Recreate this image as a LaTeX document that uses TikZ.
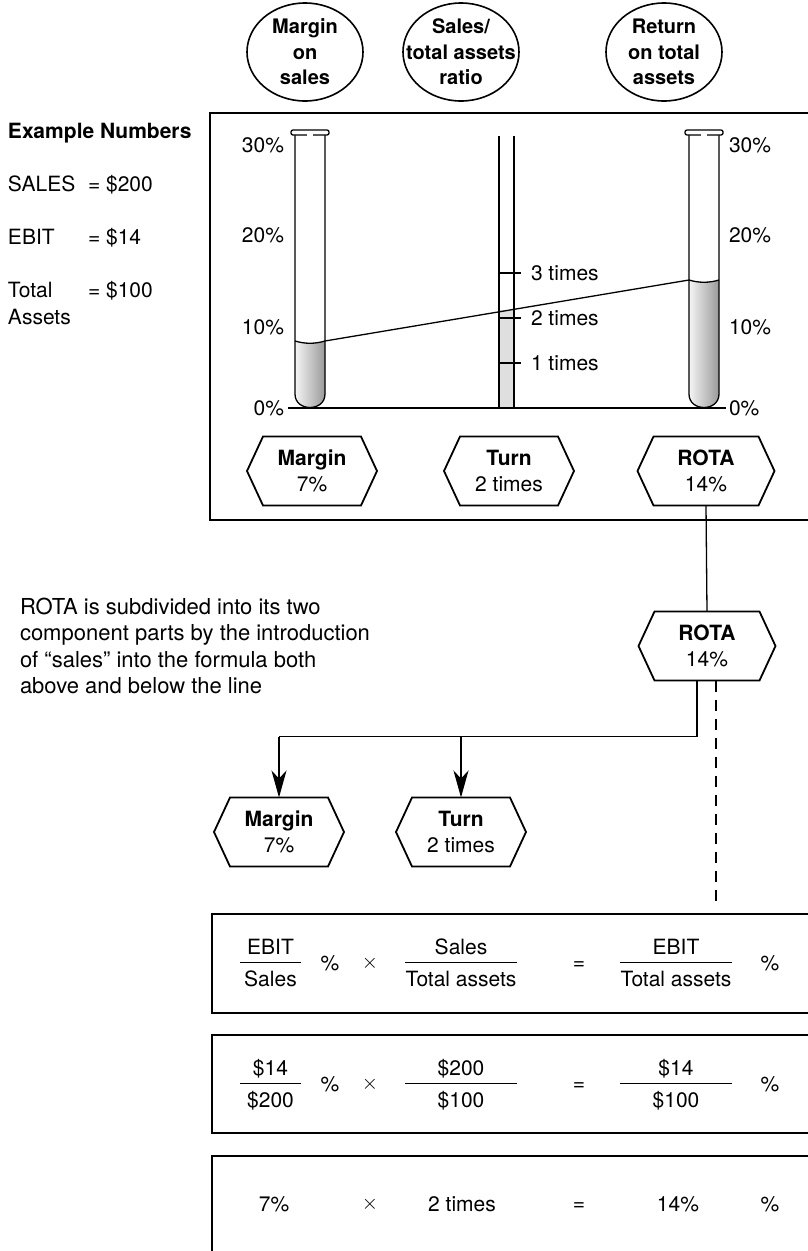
\documentclass[tikz,border=0pt]{standalone}
\usepackage{fontspec}
\setmainfont{TeX Gyre Heros}
\usetikzlibrary{arrows.meta,calc,shapes.geometric}

\newcommand\figfont{\fontsize{21}{25}\selectfont}

% heading oval: name, centre, text
\newcommand\ovalnode[3]{%
  \node[ovaltext] (#1) at (#2) {#3};
  \draw[ovalline] (#1.center) ellipse [x radius=58, y radius=49];}

% hexagonal value box: name, centre, width, content
\newcommand\hexnode[4]{%
  \node[hexbox, minimum width=#3] (#1) at (#2) {#4};
  \draw[hexline] (#1.west) -- ([xshift=16pt]#1.north west)
    -- ([xshift=-16pt]#1.north east) -- (#1.east)
    -- ([xshift=-16pt]#1.south east) -- ([xshift=16pt]#1.south west) -- cycle;}

% stacked fraction: name, x, bar y, half bar length, numerator, denominator
\newcommand\fracnode[6]{%
  \node[txt, anchor=base] (#1n) at (#2,#3-7.5) {#5};
  \node[txt, anchor=base] (#1d) at (#2,#3+24.5) {#6};
  \draw[fracbar] (#2-#4,#3) -- (#2+#4,#3);}

% test tube: centre x, liquid level y
\newcommand\testtube[2]{%
  \shade[left color=gray!8, right color=gray!80]
    (#1-15,#2) .. controls (#1-5,#2+3) and (#1+5,#2+3) .. (#1+15,#2)
    -- (#1+15,394) .. controls (#1+15,412) and (#1-15,412) .. (#1-15,394) -- cycle;
  \draw[tubeline] (#1-15,#2) .. controls (#1-5,#2+3) and (#1+5,#2+3) .. (#1+15,#2);
  \draw[tubeline] (#1-15,135) -- (#1-15,394) .. controls (#1-15,412) and (#1+15,412)
    .. (#1+15,394) -- (#1+15,135);
  \draw[tubeline, fill=white, rounded corners=2pt] (#1-19,130) rectangle (#1+19,135);
  \draw[white, line width=1.6pt] (#1-3,135) -- (#1+3,135);}

\begin{document}
\begin{tikzpicture}[x=1pt, y=-1pt,
  every node/.style={inner sep=0pt, outer sep=0pt},
  txt/.style={font=\figfont},
  boldtxt/.style={font=\figfont\bfseries},
  ovaltext/.style={align=center, font=\fontsize{20}{25.5}\selectfont\bfseries},
  ovalline/.style={line width=1.6pt},
  hexbox/.style={minimum height=69pt, align=center,
    font=\fontsize{21}{26}\selectfont},
  hexline/.style={line width=1.8pt, line join=miter},
  framebox/.style={line width=2.4pt},
  tubeline/.style={line width=1.3pt},
  conn/.style={line width=1.3pt},
  arrowconn/.style={line width=1.3pt,
    -{Stealth[length=27pt, width=15pt, inset=8pt]}},
  fracbar/.style={line width=1pt},
]
\useasboundingbox (0,0) rectangle (808,1251);

% ---- heading ovals
\ovalnode{ovm}{305,52}{Margin\\on\\sales}
\ovalnode{ovt}{461,52}{Sales/\\total assets\\ratio}
\ovalnode{ovr}{664,52}{Return\\on total\\assets}

% ---- example numbers
\node[boldtxt, anchor=base west] (exh) at (8,138.5) {Example Numbers};
\node[txt, anchor=base west] (exs) at (8,191) {SALES};
\node[txt, anchor=base west] (exsv) at (88,191) {= \$200};
\node[txt, anchor=base west] (exe) at (8,244.5) {EBIT};
\node[txt, anchor=base west] (exev) at (88,244.5) {= \$14};
\node[txt, anchor=base west] (exa) at (8,297.5) {Total};
\node[txt, anchor=base west] (exav) at (88,297.5) {= \$100};
\node[txt, anchor=base west] (exa2) at (8,324.5) {Assets};

% ---- upper frame
\draw[framebox] (830,113) -- (210,113) -- (210,520) -- (830,520);

% scale labels
\foreach \p/\y in {30/145,20/235,10/327,0/408}{
  \node[txt, anchor=base east] (sl\p) at (284,\y+7.5) {\p\%};
  \node[txt, anchor=base west] (sr\p) at (729,\y+7.5) {\p\%};
}

% tubes and rod
\testtube{310}{341}
\testtube{704}{280}
\fill[gray!25] (499,310) rectangle (514,408);
\draw[tubeline] (499,136) -- (499,408);
\draw[tubeline] (514,136) -- (514,408);
\foreach \n/\y in {3/273,2/318,1/363}{
  \draw[tubeline] (499,\y) -- (521,\y);
  \node[txt, anchor=base west] (tk\n) at (531,\y+7.5) {\n\ times};
}

% base line and level line
\draw[tubeline] (sl0.east |- 0,408) ++(4,0) -- (726,408);
\coordinate (lvlm) at (325,341);
\coordinate (lvlr) at (689,280);
\draw[tubeline] (lvlm) -- (lvlr);

% values in the frame
\hexnode{hm}{312,471}{130pt}{\textbf{Margin}\\7\%}
\hexnode{ht}{509,471}{130pt}{\textbf{Turn}\\2 times}
\hexnode{hr}{706,471}{137pt}{\textbf{ROTA}\\14\%}

% ---- explanation
\node[font=\fontsize{22}{26.5}\selectfont, align=left, anchor=north west] (expl)
  at (20,598) {ROTA is subdivided into its two\\component parts by the introduction\\of “sales” into the formula both\\above and below the line};

% ---- decomposition
\hexnode{hr2}{707,646}{137pt}{\textbf{ROTA}\\14\%}
\hexnode{hm2}{279,832}{130pt}{\textbf{Margin}\\7\%}
\hexnode{ht2}{461,832}{130pt}{\textbf{Turn}\\2 times}

\draw[conn] (hr.south) -- (hr2.north);
\draw[conn] ([xshift=-10pt]hr2.south) -- ++(0,56) coordinate (fork)
  -- (fork -| hm2.north);
\draw[arrowconn] (fork -| hm2.north) -- (hm2.north);
\draw[arrowconn] (fork -| ht2.north) -- (ht2.north);
\coordinate (dashend) at (716,903);
\draw[conn, dash pattern=on 11pt off 8pt] ([xshift=9pt]hr2.south) -- (dashend);

% ---- formula boxes
\draw[framebox] (830,914) -- (212,914) -- (212,1013) -- (830,1013);
\draw[framebox] (830,1035) -- (212,1035) -- (212,1133) -- (830,1133);
\draw[framebox] (830,1156) -- (212,1156) -- (212,1270);

% general formula
\fracnode{fa}{270.5}{962}{30.5}{EBIT}{Sales}
\node[txt, anchor=base] (pa) at (330,970.5) {\%};
\node[txt, anchor=base] (xa) at (370,968) {$\times$};
\fracnode{fb}{461}{962}{56}{Sales}{Total assets}
\node[txt, anchor=base] (ea) at (579,969) {=};
\fracnode{fc}{676}{962}{56}{EBIT}{Total assets}
\node[txt, anchor=base] (pa2) at (770,970.5) {\%};

% with the example numbers
\fracnode{ga}{270.5}{1083}{30.5}{\$14}{\$200}
\node[txt, anchor=base] (pb) at (330,1091.5) {\%};
\node[txt, anchor=base] (xb) at (370,1089) {$\times$};
\fracnode{gb}{461}{1083}{56}{\$200}{\$100}
\node[txt, anchor=base] (eb) at (579,1090) {=};
\fracnode{gc}{676}{1083}{56}{\$14}{\$100}
\node[txt, anchor=base] (pb2) at (770,1091.5) {\%};

% result
\node[txt, anchor=base] (rc1) at (274,1211.5) {7\%};
\node[txt, anchor=base] (xc) at (370,1209) {$\times$};
\node[txt, anchor=base] (rc2) at (462,1211.5) {2 times};
\node[txt, anchor=base] (ec) at (579,1210) {=};
\node[txt, anchor=base] (rc3) at (678,1211.5) {14\%};
\node[txt, anchor=base] (pc) at (770,1211.5) {\%};
\end{tikzpicture}
\end{document}
